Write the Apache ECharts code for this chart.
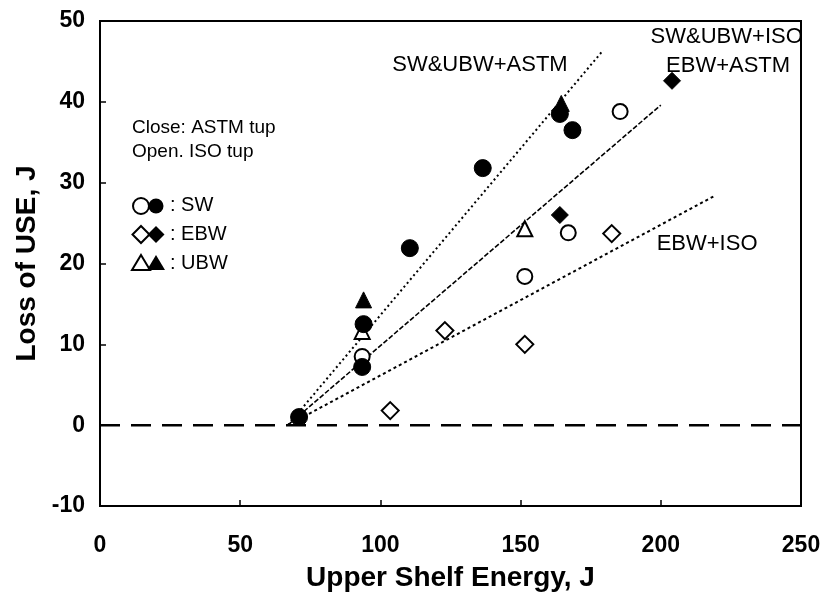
<!DOCTYPE html>
<html>
<head>
<meta charset="utf-8">
<script src="https://cdn.jsdelivr.net/npm/echarts@6/dist/echarts.min.js"></script>
<style>
  html, body { margin: 0; padding: 0; background: #fff; }
  #chart { width: 823px; height: 593px; }
</style>
</head>
<body>
<div id="chart"></div>
<script>
// Axis ranges and ticks
const xTicks = [0, 50, 100, 150, 200, 250];
const yTicks = [-10, 0, 10, 20, 30, 40, 50];

// Measurements: [upper shelf energy (J), loss of USE (J)]
const swAstm  = [[71, 1.0], [93.5, 7.2], [94, 12.5], [110.5, 21.9], [136.5, 31.8], [164, 38.5], [168.5, 36.5]];
const swIso   = [[93.5, 8.5], [151.5, 18.4], [167, 23.8], [185.5, 38.8]];
const ebwIso  = [[103.5, 1.8], [123, 11.7], [151.5, 10.0], [182.5, 23.7]];
const ebwAstm = [[164, 26.0], [204, 42.6]];
const ubwIso  = [[93.5, 11.6], [151.5, 24.3]];
const ubwAstm = [[94, 15.5], [164.5, 39.8]];

// Trend lines (start, end)
const trendSwUbwAstm = [[67, 0], [179.5, 46.4]];
const trendMid       = [[67, 0], [200, 39.6]];
const trendEbwIso    = [[67, 0], [218.8, 28.3]];
const zeroLine       = [[0, 0], [250, 0]];

// Line annotations: [x, y, text]
const lineNotes = [
  [135.5, 44.6, 'SW&UBW+ASTM'],
  [223.5, 48.0, 'SW&UBW+ISO'],
  [224.0, 44.4, 'EBW+ASTM'],
  [216.5, 22.4, 'EBW+ISO']
];

const FONT = '"Liberation Sans", Arial, sans-serif';
const chart = echarts.init(document.getElementById('chart'), null, { renderer: 'canvas' });

const openStyle = { color: '#fff', borderColor: '#000', borderWidth: 2, opacity: 1 };
const fillStyle = { color: '#000', borderColor: '#000', borderWidth: 1, opacity: 1 };

function pts(name, data, symbol, size, style) {
  return { name, type: 'scatter', data, symbol, symbolSize: size, itemStyle: style, z: 5, silent: true };
}
function trend(name, data, width, dash) {
  return {
    name, type: 'line', data, symbol: 'none', z: 3, silent: true,
    lineStyle: { color: '#000', width, type: dash }
  };
}

const triPath = 'path://M0,-10L8.66,5L-8.66,5Z';

chart.setOption({
  animation: false,
  backgroundColor: '#fff',
  textStyle: { fontFamily: FONT },
  grid: {
    left: 100, right: 22, top: 21, bottom: 87,
    outerBoundsMode: 'none', containLabel: false,
    show: true, borderColor: '#000', borderWidth: 2, backgroundColor: 'transparent'
  },
  xAxis: {
    type: 'value', min: xTicks[0], max: xTicks[xTicks.length - 1], interval: 50,
    name: 'Upper Shelf Energy, J', nameLocation: 'middle', nameGap: 58,
    nameTextStyle: { fontFamily: FONT, fontSize: 28, fontWeight: 'bold', color: '#000' },
    axisLine: { onZero: false, lineStyle: { color: '#000', width: 2 } },
    axisTick: { inside: true, length: 6, lineStyle: { color: '#000', width: 1.5 } },
    axisLabel: { margin: 28, fontFamily: FONT, fontSize: 23, fontWeight: 'bold', color: '#000' },
    splitLine: { show: false }
  },
  yAxis: {
    type: 'value', min: yTicks[0], max: yTicks[yTicks.length - 1], interval: 10,
    name: 'Loss of USE, J', nameLocation: 'middle', nameGap: 52,
    nameTextStyle: { fontFamily: FONT, fontSize: 28, fontWeight: 'bold', color: '#000' },
    axisLine: { onZero: false, lineStyle: { color: '#000', width: 2 } },
    axisTick: { inside: true, length: 6, lineStyle: { color: '#000', width: 1.5 } },
    axisLabel: { margin: 15, fontFamily: FONT, fontSize: 23, fontWeight: 'bold', color: '#000' },
    splitLine: { show: false }
  },
  series: [
    {
      name: 'zero', type: 'line', data: zeroLine, symbol: 'none', z: 2, silent: true,
      lineStyle: { color: '#000', width: 2.5, type: [20, 11] }
    },
    trend('SW&UBW+ASTM', trendSwUbwAstm, 2, [2, 3]),
    trend('SW&UBW+ISO / EBW+ASTM', trendMid, 1.6, [5, 2]),
    trend('EBW+ISO', trendEbwIso, 2, [3, 3]),
    pts('SW ISO', swIso, 'circle', 15, openStyle),
    pts('EBW ISO', ebwIso, 'diamond', 17, openStyle),
    pts('UBW ISO', ubwIso, triPath, 15, openStyle),
    pts('SW ASTM', swAstm, 'circle', 17, fillStyle),
    pts('EBW ASTM', ebwAstm, 'diamond', 17, fillStyle),
    pts('UBW ASTM', ubwAstm, triPath, 16, fillStyle),
    {
      name: 'notes', type: 'scatter', symbolSize: 0, silent: true, z: 6,
      itemStyle: { opacity: 1 },
      data: lineNotes.map(n => ({ value: [n[0], n[1]], label: { formatter: n[2] } })),
      label: { show: true, position: 'inside', fontFamily: FONT, fontSize: 22, color: '#000', opacity: 1 }
    }
  ],
  graphic: [
    { type: 'text', left: 132, top: 118, style: { text: 'Close: ASTM tup', font: '19px ' + FONT, fill: '#000' } },
    { type: 'text', left: 132, top: 142, style: { text: 'Open. ISO tup', font: '19px ' + FONT, fill: '#000' } },
    // SW row
    { type: 'circle', shape: { cx: 141, cy: 206, r: 8 }, style: { fill: '#fff', stroke: '#000', lineWidth: 2 } },
    { type: 'circle', shape: { cx: 156, cy: 206, r: 7.5 }, style: { fill: '#000' } },
    { type: 'text', left: 170, top: 195, style: { text: ': SW', font: '20px ' + FONT, fill: '#000' } },
    // EBW row
    { type: 'polygon', shape: { points: [[141, 226], [149.5, 234.5], [141, 243], [132.5, 234.5]] }, style: { fill: '#fff', stroke: '#000', lineWidth: 2 } },
    { type: 'polygon', shape: { points: [[156, 226], [164.5, 234.5], [156, 243], [147.5, 234.5]] }, style: { fill: '#000' } },
    { type: 'text', left: 170, top: 224, style: { text: ': EBW', font: '20px ' + FONT, fill: '#000' } },
    // UBW row
    { type: 'polygon', shape: { points: [[141, 255], [150, 270], [132, 270]] }, style: { fill: '#fff', stroke: '#000', lineWidth: 2 } },
    { type: 'polygon', shape: { points: [[156, 255], [165, 270], [147, 270]] }, style: { fill: '#000' } },
    { type: 'text', left: 170, top: 253, style: { text: ': UBW', font: '20px ' + FONT, fill: '#000' } }
  ]
});
</script>
</body>
</html>
